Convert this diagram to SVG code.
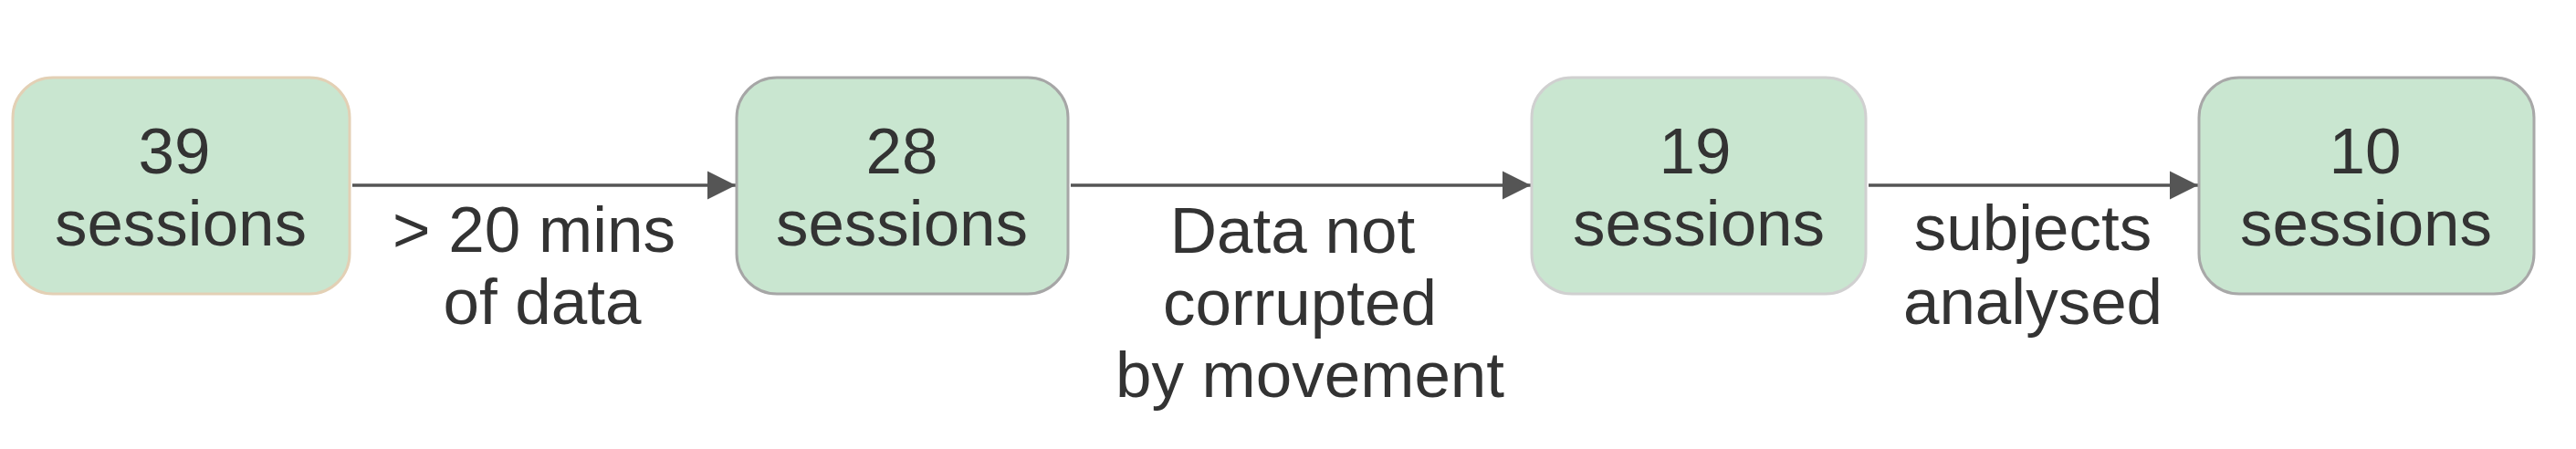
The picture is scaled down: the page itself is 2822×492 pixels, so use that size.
<svg xmlns="http://www.w3.org/2000/svg" width="2822" height="492" viewBox="0 0 2822 492">
<style>
.box{fill:#c9e6d0;stroke-width:3}
.t{font-family:"Liberation Sans",Arial,sans-serif;font-size:71px;fill:#333333;text-anchor:middle}
.c{stroke:#555555;stroke-width:3.5;fill:none}
</style>
<defs>
<marker id="ah" markerUnits="userSpaceOnUse" markerWidth="32" markerHeight="32" refX="31" refY="16" orient="auto">
<path d="M0,0.5 L31,16 L0,31.5 Z" fill="#555555"/>
</marker>
</defs>
<rect width="2822" height="492" fill="#ffffff"/>
<g id="connectors">
<line class="c" x1="386" y1="203" x2="806" y2="203" marker-end="url(#ah)"/>
<line class="c" x1="1173" y1="203" x2="1677" y2="203" marker-end="url(#ah)"/>
<line class="c" x1="2047" y1="203" x2="2408" y2="203" marker-end="url(#ah)"/>
<text class="t" x="585" y="276">&gt; 20 mins</text>
<text class="t" x="594" y="355">of data</text>
<text class="t" x="1416" y="277">Data not</text>
<text class="t" x="1424" y="356">corrupted</text>
<text class="t" x="1435" y="435">by movement</text>
<text class="t" x="2227" y="274">subjects</text>
<text class="t" x="2227" y="355">analysed</text>
</g>
<g id="node1">
<rect class="box" x="14" y="85" width="369" height="237" rx="44" stroke="#e3d0b5"/>
<text class="t" x="191" y="190">39</text>
<text class="t" x="198" y="269">sessions</text>
</g>
<g id="node2">
<rect class="box" x="807" y="85" width="363" height="237" rx="44" stroke="#a6a6a6"/>
<text class="t" x="988" y="190">28</text>
<text class="t" x="988" y="269">sessions</text>
</g>
<g id="node3">
<rect class="box" x="1678" y="85" width="366" height="237" rx="44" stroke="#d0d0d0"/>
<text class="t" x="1857" y="190">19</text>
<text class="t" x="1861" y="269">sessions</text>
</g>
<g id="node4">
<rect class="box" x="2409" y="85" width="367" height="237" rx="44" stroke="#a8a8a8"/>
<text class="t" x="2591" y="190">10</text>
<text class="t" x="2592" y="269">sessions</text>
</g>
</svg>
